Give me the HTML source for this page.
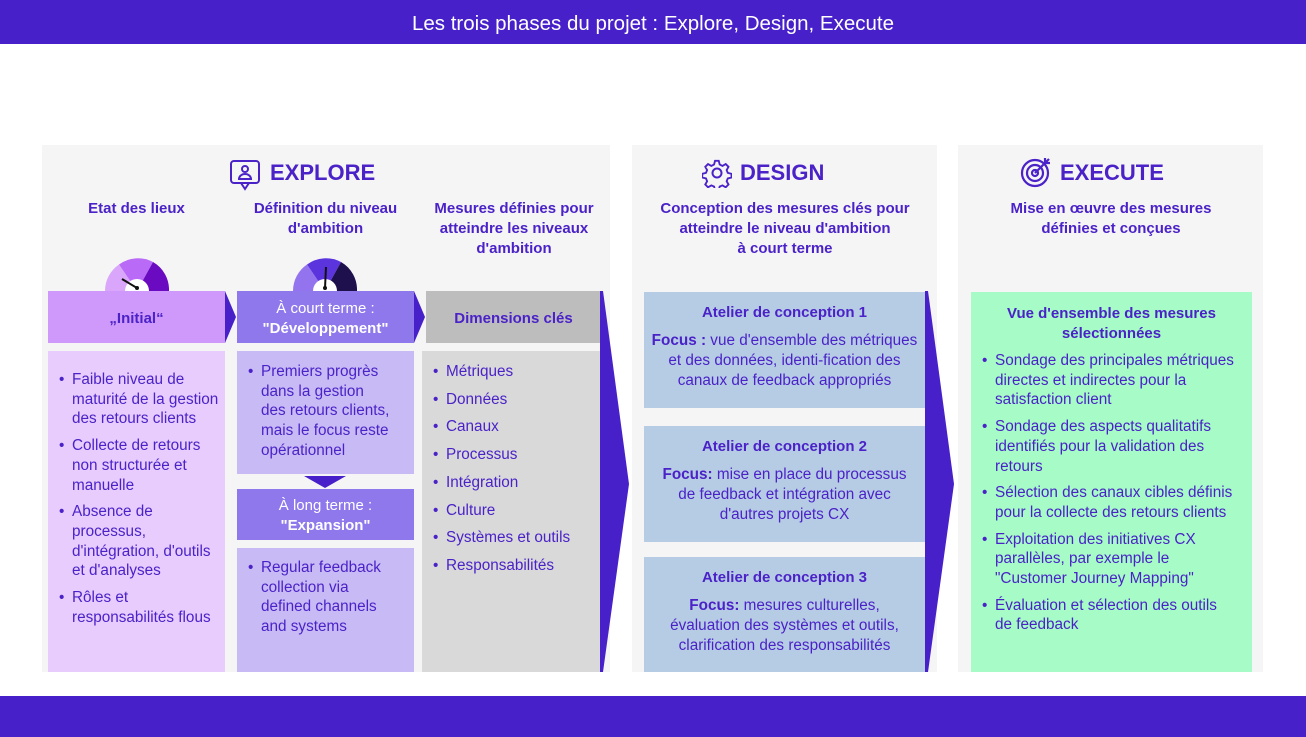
<!DOCTYPE html>
<html><head><meta charset="utf-8"><style>
*{margin:0;padding:0;box-sizing:border-box}
body{width:1306px;height:737px;position:relative;background:#fff;font-family:"Liberation Sans",sans-serif;color:#4a22c8;overflow:hidden}
.a{position:absolute}
.bar{background:#4720c9;left:0;width:1306px}
.panel{background:#f5f5f5}
.h{font-weight:bold;font-size:22px;color:#4a22c8}
.sub{font-weight:bold;font-size:15px;text-align:center;line-height:20px;white-space:nowrap}
.box{display:flex;align-items:center;justify-content:center;text-align:center;font-weight:bold;font-size:15px;line-height:20px;white-space:nowrap;padding-top:3px}
ul{list-style:none;font-size:15.3px;line-height:19.7px;white-space:nowrap}
ul li{position:relative;padding-left:24px;margin-bottom:7px}
ul li:before{content:"•";position:absolute;left:11px;top:0}
.d{font-size:15.3px;line-height:20px;text-align:center;white-space:nowrap}
</style></head><body>
<div class="a bar" style="top:0;height:44px;color:#fff;font-size:20.5px;text-align:center;line-height:48px">Les trois phases du projet : Explore, Design, Execute</div>
<div class="a bar" style="top:696px;height:41px"></div>

<div class="a panel" style="left:42px;top:145px;width:568px;height:527px"></div>
<div class="a panel" style="left:632px;top:145px;width:305px;height:527px"></div>
<div class="a panel" style="left:958px;top:145px;width:305px;height:527px"></div>

<svg class="a" style="left:229px;top:159px" width="32" height="32" viewBox="0 0 32 32" fill="none" stroke="#4a22c8" stroke-width="2"><rect x="2" y="2" width="28" height="22" rx="3"/><path d="M12 24 L16 30 L20 24"/><circle cx="16" cy="10" r="3"/><path d="M10 20 a6 5 0 0 1 12 0 Z"/></svg>
<div class="a h" style="left:270px;top:160px">EXPLORE</div>
<svg class="a" style="left:702px;top:158px" width="30" height="30" viewBox="0 0 30 30" fill="none" stroke="#4a22c8" stroke-width="2"><circle cx="15" cy="15" r="4.5"/><path d="M13 2h4l1 4 3 1.5 3.5-2 3 3-2 3.5 1.2 3 4 1v4l-4 1-1.2 3 2 3.5-3 3-3.5-2-3 1.2-1 4h-4l-1-4-3-1.2-3.5 2-3-3 2-3.5-1.2-3-4-1v-4l4-1 1.2-3-2-3.5 3-3 3.5 2 3-1.5z" transform="scale(0.93) translate(1 1)"/></svg>
<div class="a h" style="left:740px;top:160px">DESIGN</div>
<svg class="a" style="left:1020px;top:155px" width="34" height="34" viewBox="0 0 34 34" fill="none" stroke="#4a22c8" stroke-width="2.2"><circle cx="15" cy="18" r="13"/><circle cx="15" cy="18" r="8"/><circle cx="15" cy="18" r="3"/><path d="M15 18 L29 4 M25 3v5h5"/></svg>
<div class="a h" style="left:1060px;top:160px">EXECUTE</div>

<div class="a sub" style="left:48px;top:199px;width:177px">Etat des lieux</div>
<div class="a sub" style="left:237px;top:199px;width:177px">Définition du niveau<br>d'ambition</div>
<div class="a sub" style="left:424px;top:199px;width:180px">Mesures définies pour<br>atteindre les niveaux<br>d'ambition</div>
<div class="a sub" style="left:640px;top:199px;width:290px">Conception des mesures clés pour<br>atteindre le niveau d'ambition<br>à court terme</div>
<div class="a sub" style="left:966px;top:199px;width:290px">Mise en œuvre des mesures<br>définies et conçues</div>

<svg class="a" style="left:105px;top:257px" width="64" height="34" viewBox="0 0 64 34">
<path d="M0 34 A32 32 0 0 1 14 7.5 L32 34Z" fill="#d9a6fb"/>
<path d="M14 7.5 A32 32 0 0 1 48 5 L32 34Z" fill="#b96bf7"/>
<path d="M48 5 A32 32 0 0 1 64 34 L32 34Z" fill="#6a0bc2"/>
<path d="M20 34 A12 12 0 0 1 44 34Z" fill="#fff"/>
<line x1="17" y1="22" x2="32" y2="31" stroke="#111" stroke-width="2"/><circle cx="32" cy="31" r="2" fill="#111"/></svg>
<svg class="a" style="left:293px;top:257px" width="64" height="34" viewBox="0 0 64 34">
<path d="M0 34 A32 32 0 0 1 14 7.5 L32 34Z" fill="#9474ee"/>
<path d="M14 7.5 A32 32 0 0 1 48 5 L32 34Z" fill="#5b34de"/>
<path d="M48 5 A32 32 0 0 1 64 34 L32 34Z" fill="#1e0f4d"/>
<path d="M20 34 A12 12 0 0 1 44 34Z" fill="#fff"/>
<line x1="33" y1="10" x2="32" y2="31" stroke="#111" stroke-width="2"/><circle cx="32" cy="31" r="2" fill="#111"/></svg>

<div class="a box" style="left:48px;top:291px;width:177px;height:52px;background:#cf99fb">„Initial“</div>
<svg class="a" style="left:225px;top:291px" width="12" height="52"><path d="M0 0 L11 26 L0 52Z" fill="#4720c9"/></svg>
<div class="a" style="left:48px;top:351px;width:177px;height:321px;background:#e7ccfd;padding-top:19px">
<ul><li>Faible niveau de<br>maturité de la gestion<br>des retours clients</li><li>Collecte de retours<br>non structurée et<br>manuelle</li><li>Absence de<br>processus,<br>d'intégration, d'outils<br>et d'analyses</li><li>Rôles et<br>responsabilités flous</li></ul></div>

<div class="a box" style="left:237px;top:291px;width:177px;height:52px;background:#8f77ec;color:#fff;font-weight:normal"><div>À court terme :<br><b>"Développement"</b></div></div>
<svg class="a" style="left:414px;top:291px" width="12" height="52"><path d="M0 0 L11 26 L0 52Z" fill="#4720c9"/></svg>
<div class="a" style="left:237px;top:351px;width:177px;height:123px;background:#c8bbf5;padding-top:11px">
<ul><li>Premiers progrès<br>dans la gestion<br>des retours clients,<br>mais le focus reste<br>opérationnel</li></ul></div>
<svg class="a" style="left:304px;top:476px" width="42" height="12"><path d="M0 0 H42 L21 12Z" fill="#4720c9"/></svg>
<div class="a box" style="left:237px;top:489px;width:177px;height:51px;background:#8f77ec;color:#fff;font-weight:normal"><div>À long terme :<br><b>"Expansion"</b></div></div>
<div class="a" style="left:237px;top:548px;width:177px;height:124px;background:#c8bbf5;padding-top:10px">
<ul><li>Regular feedback<br>collection via<br>defined channels<br>and systems</li></ul></div>

<div class="a box" style="left:426px;top:291px;width:175px;height:52px;background:#bdbdbd">Dimensions clés</div>
<div class="a" style="left:422px;top:351px;width:178px;height:321px;background:#d9d9d9;padding-top:11px">
<ul style="line-height:20.7px"><li>Métriques</li><li>Données</li><li>Canaux</li><li>Processus</li><li>Intégration</li><li>Culture</li><li>Systèmes et outils</li><li>Responsabilités</li></ul></div>
<svg class="a" style="left:600px;top:291px" width="30" height="382"><path d="M0 0 L3 0 L29 193 L3 381 L0 381Z" fill="#4720c9"/></svg>

<div class="a" style="left:644px;top:292px;width:281px;height:116px;background:#b6cce4;padding-top:11px">
<div class="sub">Atelier de conception 1</div>
<div class="d" style="margin-top:8px"><b>Focus :</b> vue d'ensemble des métriques<br>et des données, identi-fication des<br>canaux de feedback appropriés</div></div>
<div class="a" style="left:644px;top:426px;width:281px;height:116px;background:#b6cce4;padding-top:11px">
<div class="sub">Atelier de conception 2</div>
<div class="d" style="margin-top:8px"><b>Focus:</b> mise en place du processus<br>de feedback et intégration avec<br>d'autres projets CX</div></div>
<div class="a" style="left:644px;top:557px;width:281px;height:115px;background:#b6cce4;padding-top:11px">
<div class="sub">Atelier de conception 3</div>
<div class="d" style="margin-top:8px"><b>Focus:</b> mesures culturelles,<br>évaluation des systèmes et outils,<br>clarification des responsabilités</div></div>
<svg class="a" style="left:925px;top:291px" width="30" height="382"><path d="M0 0 L3 0 L29 193 L3 381 L0 381Z" fill="#4720c9"/></svg>

<div class="a" style="left:971px;top:292px;width:281px;height:380px;background:#a6fbc6;padding-top:12px">
<div class="sub">Vue d'ensemble des mesures<br>sélectionnées</div>
<ul style="margin-top:7px"><li>Sondage des principales métriques<br>directes et indirectes pour la<br>satisfaction client</li><li>Sondage des aspects qualitatifs<br>identifiés pour la validation des<br>retours</li><li>Sélection des canaux cibles définis<br>pour la collecte des retours clients</li><li>Exploitation des initiatives CX<br>parallèles, par exemple le<br>"Customer Journey Mapping"</li><li>Évaluation et sélection des outils<br>de feedback</li></ul></div>
</body></html>
